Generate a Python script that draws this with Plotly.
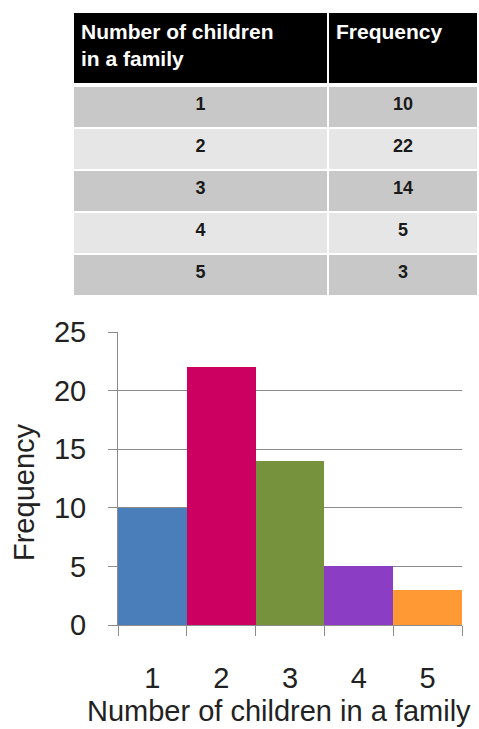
import plotly.graph_objects as go

children = [1, 2, 3, 4, 5]
frequency = [10, 22, 14, 5, 3]
bar_colors = ["#4a7ebb", "#cc0060", "#76923c", "#8b3dc4", "#ff9933"]
header_labels = ["<b>Number of children<br>in a family</b>", "<b>Frequency</b>"]
y_ticks = [0, 5, 10, 15, 20, 25]

W, H = 479, 729
def py(px):
    return 1 - px / H

row_fills = ["#c8c8c8", "#e6e6e6", "#c8c8c8", "#e6e6e6", "#c8c8c8"]

fig = go.Figure()

fig.add_trace(go.Table(
    domain=dict(x=[73 / W, 478 / W], y=[py(300), py(12)]),
    columnwidth=[255, 150],
    header=dict(
        values=header_labels,
        fill_color="black",
        font=dict(color="white", size=21, family="Liberation Sans"),
        align="left",
        height=74,
        line=dict(color="white", width=2),
    ),
    cells=dict(
        values=[[f"<b>{c}</b>" for c in children], [f"<b>{f}</b>" for f in frequency]],
        fill_color=[row_fills, row_fills],
        font=dict(color="#1a1a1a", size=18, family="Liberation Sans"),
        align="center",
        height=42,
        line=dict(color="white", width=2),
    ),
))

fig.add_trace(go.Bar(
    x=children,
    y=frequency,
    width=1,
    marker=dict(color=bar_colors, line=dict(width=0)),
    showlegend=False,
))

font = dict(family="Liberation Sans", size=29, color="#222222")
grid = "#8c8c8c"

fig.update_layout(
    width=W, height=H,
    margin=dict(l=0, r=0, t=0, b=0, autoexpand=False),
    paper_bgcolor="white",
    plot_bgcolor="white",
    bargap=0,
    font=font,
    xaxis=dict(
        domain=[118 / W, 462 / W],
        range=[0.5, 5.5],
        tickvals=children,
        ticktext=[str(c) for c in children],
        ticks="",
        showgrid=False,
        showline=True, linecolor=grid, linewidth=1,
        minor=dict(tick0=0.5, dtick=1, ticks="outside", ticklen=10, tickcolor=grid, showgrid=False),
        ticklabelstandoff=27,
        tickfont=font,
        zeroline=False,
        automargin=False,
    ),
    yaxis=dict(
        domain=[py(625), py(332)],
        range=[0, 25],
        tickvals=y_ticks,
        ticks="outside", ticklen=9, tickcolor=grid,
        showgrid=True, gridcolor=grid, gridwidth=1,
        showline=True, linecolor=grid, linewidth=1,
        ticklabelstandoff=16,
        tickfont=font,
        zeroline=False,
        automargin=False,
    ),
    shapes=[
        dict(type="rect", xref="paper", yref="paper", layer="above",
             x0=70 / W, x1=1, y0=py(87), y1=py(83),
             fillcolor="white", line=dict(width=0)),
    ],
    annotations=[
        dict(text="Number of children in a family", x=(82 + 475) / 2 / W, y=0,
             xref="paper", yref="paper", xanchor="center", yanchor="bottom",
             showarrow=False, font=font),
        dict(text="Frequency", x=24 / W, y=py(492), textangle=-90,
             xref="paper", yref="paper", xanchor="center", yanchor="middle",
             showarrow=False, font=font),
    ],
)

fig.write_html("out.html")
